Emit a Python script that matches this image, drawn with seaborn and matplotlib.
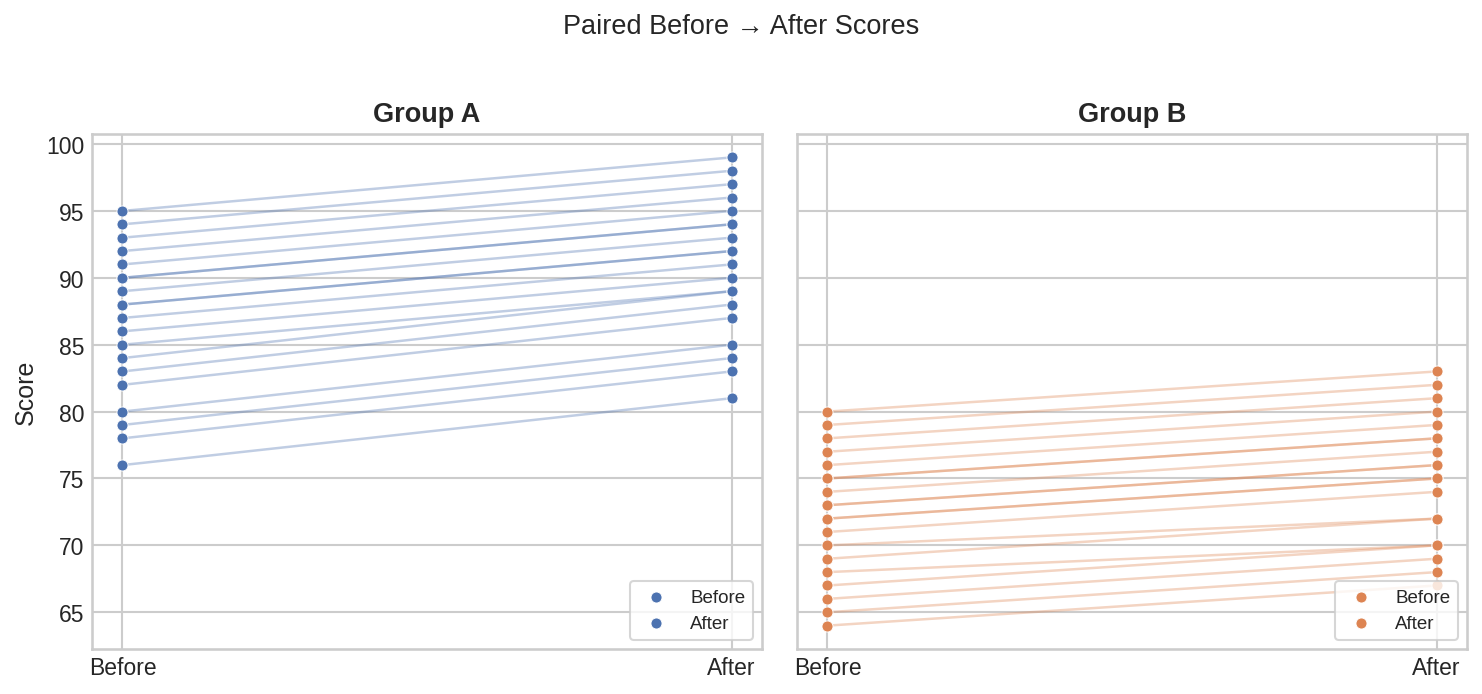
import numpy as np
import pandas as pd
import seaborn as sns
import matplotlib.pyplot as plt

# paired scores
a_before = [95, 94, 93, 92, 91, 90, 90, 89, 88, 88, 87, 86, 85, 84, 83, 82, 80, 79, 78, 76]
a_after = [99, 98, 97, 96, 95, 94, 94, 93, 92, 92, 91, 90, 89, 89, 88, 87, 85, 84, 83, 81]
b_before = [80, 79, 78, 77, 76, 75, 75, 74, 73, 73, 72, 72, 71, 70, 69, 68, 67, 66, 65, 64]
b_after = [83, 82, 81, 80, 79, 78, 78, 77, 76, 76, 75, 75, 74, 72, 72, 70, 70, 69, 68, 67]

groups = ['Group A', 'Group B']
phases = ['Before', 'After']

sns.set_style('whitegrid')
sns.set_context('notebook')
plt.rcParams['font.family'] = ['Liberation Sans', 'DejaVu Sans']
plt.rcParams.update({'xtick.major.size': 0, 'ytick.major.size': 0,
                     'xtick.major.pad': 3.5, 'ytick.major.pad': 3.5})

palette = sns.color_palette('deep')
colors = [palette[0], palette[1]]


def long_frame(before, after):
    n = len(before)
    return pd.DataFrame({
        'pair': list(range(n)) * 2,
        'phase': [0] * n + [1] * n,
        'score': list(before) + list(after),
    })


fig, axes = plt.subplots(1, 2, figsize=(9.88, 4.633), dpi=150, sharey=True)
data = [(a_before, a_after), (b_before, b_after)]

for ax, name, (bef, aft), col in zip(axes, groups, data, colors):
    df = long_frame(bef, aft)
    sns.lineplot(data=df, x='phase', y='score', units='pair', estimator=None,
                 color=col, alpha=0.35, lw=1.2, ax=ax, legend=False, zorder=1)
    sns.scatterplot(data=df[df.phase == 0], x='phase', y='score', color=col,
                    s=28, label='Before', ax=ax, zorder=3)
    sns.scatterplot(data=df[df.phase == 1], x='phase', y='score', color=col,
                    s=28, label='After', ax=ax, zorder=3)
    ax.set_xticks([0, 1])
    ax.set_xticklabels(phases)
    ax.set_xlim(-0.05, 1.05)
    ax.set_xlabel('')
    ax.set_title(name, fontweight='bold', fontsize=13)
    ax.legend(loc='lower right', fontsize=9, frameon=True)

axes[0].set_ylabel('Score')
axes[1].set_ylabel('')
axes[0].set_ylim(62.25, 100.75)

fig.suptitle('Paired Before \u2192 After Scores', fontsize=13, y=0.98)
fig.subplots_adjust(left=0.0621, right=0.9899, top=0.8058, bottom=0.0647, wspace=0.0522)
fig.savefig('out.png', dpi=150)
